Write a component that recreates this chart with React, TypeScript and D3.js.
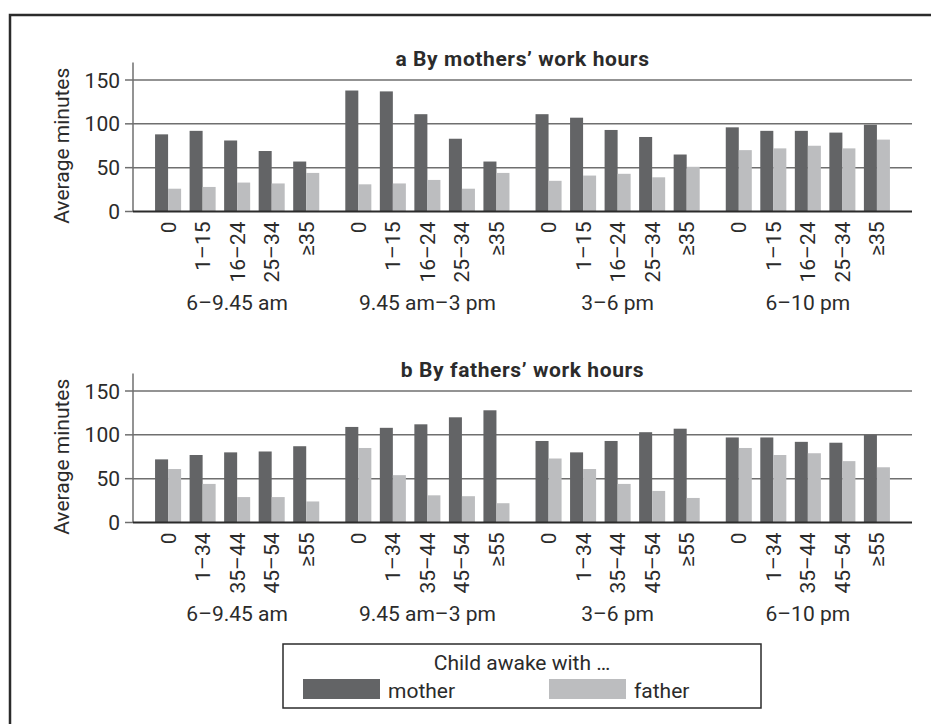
import React from "react";
import * as d3 from "d3";

const width = 931;
const height = 724;
const FONT = "Roboto, 'Noto Sans', sans-serif";

// time-of-day groups and work-hour bands
const periods = ["6–9.45 am", "9.45 am–3 pm", "3–6 pm", "6–10 pm"];
const motherHours = ["0", "1–15", "16–24", "25–34", "≥35"];
const fatherHours = ["0", "1–34", "35–44", "45–54", "≥55"];
const yTicks = [0, 50, 100, 150];

// panel a: by mothers' work hours (one row per period)
const aMother = [
  [88, 92, 81, 69, 57],
  [138, 137, 111, 83, 57],
  [111, 107, 93, 85, 65],
  [96, 92, 92, 90, 99],
];
const aFather = [
  [26, 28, 33, 32, 44],
  [31, 32, 36, 26, 44],
  [35, 41, 43, 39, 51],
  [70, 72, 75, 72, 82],
];

// panel b: by fathers' work hours
const bMother = [
  [72, 77, 80, 81, 87],
  [109, 108, 112, 120, 128],
  [93, 80, 93, 103, 107],
  [97, 97, 92, 91, 100],
];
const bFather = [
  [61, 44, 29, 29, 24],
  [85, 54, 31, 30, 22],
  [73, 61, 44, 36, 28],
  [85, 77, 79, 70, 63],
];

const MOTHER = "#636466";
const FATHER = "#bcbdbf";
const INK = "#2b2b2b";

const xLeft = 133;
const xRight = 912;

const x0 = d3.scaleBand<string>().domain(periods).range([xLeft, xRight])
  .paddingInner(0.137).paddingOuter(0.116);

function Panel({ title, top, cats, mother, father }: any) {
  const y0 = top;
  const y = d3.scaleLinear().domain([0, 150]).range([y0, y0 - 131.5]);
  const x1 = d3.scaleBand<string>().domain(cats).range([0, x0.bandwidth()])
    .paddingInner(0.246).paddingOuter(0);
  const bw = x1.bandwidth() / 2;
  const mid = (xLeft + xRight) / 2;
  return (
    <g>
      <text x={mid} y={y0 - 146} textAnchor="middle" fontFamily={FONT} fontWeight="bold"
        fontSize={21} fill={INK} letterSpacing="0.6">{title}</text>
      {yTicks.filter(t => t > 0).map(t => (
        <line key={t} x1={xLeft} x2={xRight} y1={y(t)} y2={y(t)} stroke="#6f6f6f" strokeWidth={1.5} />
      ))}
      {periods.map((p, gi) => (
        <g key={p} transform={`translate(${x0(p)},0)`}>
          {cats.map((c: string, ci: number) => (
            <g key={c}>
              <rect x={x1(c)} y={y(mother[gi][ci])} width={bw} height={y0 - y(mother[gi][ci])} fill={MOTHER} />
              <rect x={(x1(c) as number) + bw} y={y(father[gi][ci])} width={bw} height={y0 - y(father[gi][ci])} fill={FATHER} />
              <text transform={`translate(${(x1(c) as number) + bw},${y0 + 10}) rotate(-90)`}
                textAnchor="end" dy="0.36em" fontFamily={FONT} fontSize={21} fill={INK}>{c}</text>
            </g>
          ))}
          <text x={x0.bandwidth() / 2} y={y0 + 98.5} textAnchor="middle" fontFamily={FONT}
            fontSize={21} fill={INK}>{p}</text>
        </g>
      ))}
      <line x1={xLeft} x2={xLeft} y1={y0} y2={y(170)} stroke="#6f6f6f" strokeWidth={1.5} />
      {yTicks.map(t => (
        <g key={t}>
          <line x1={xLeft - 8} x2={xLeft} y1={y(t)} y2={y(t)} stroke="#6f6f6f" strokeWidth={1.5} />
          <text x={120} y={y(t)} dy="0.36em" textAnchor="end" fontFamily={FONT} fontSize={21} fill={INK}>{t}</text>
        </g>
      ))}
      <line x1={xLeft} x2={xRight} y1={y0} y2={y0} stroke={INK} strokeWidth={1.8} />
      <text transform={`translate(69,${y(75)}) rotate(-90)`} textAnchor="middle" fontFamily={FONT}
        fontSize={21} fill={INK}>Average minutes</text>
    </g>
  );
}

export default function App() {
  return (
    <svg width={width} height={height} style={{ position: "absolute", left: 0, top: 0, background: "#fff" }}>
      <path d={`M10,${height} L10,15 L${width},15`} fill="none" stroke={INK} strokeWidth={2.5} />
      <Panel title="a By mothers’ work hours" top={211.5} cats={motherHours} mother={aMother} father={aFather} />
      <Panel title="b By fathers’ work hours" top={522.5} cats={fatherHours} mother={bMother} father={bFather} />
      <g>
        <rect x={283} y={644} width={478} height={64} fill="none" stroke={INK} strokeWidth={1.5} />
        <text x={522} y={670} textAnchor="middle" fontFamily={FONT} fontSize={21} fill={INK}>Child awake with …</text>
        <rect x={303} y={679} width={77} height={20} fill={MOTHER} />
        <text x={388} y={698} fontFamily={FONT} fontSize={21} fill={INK}>mother</text>
        <rect x={549} y={679} width={77} height={20} fill={FATHER} />
        <text x={634} y={698} fontFamily={FONT} fontSize={21} fill={INK}>father</text>
      </g>
    </svg>
  );
}
